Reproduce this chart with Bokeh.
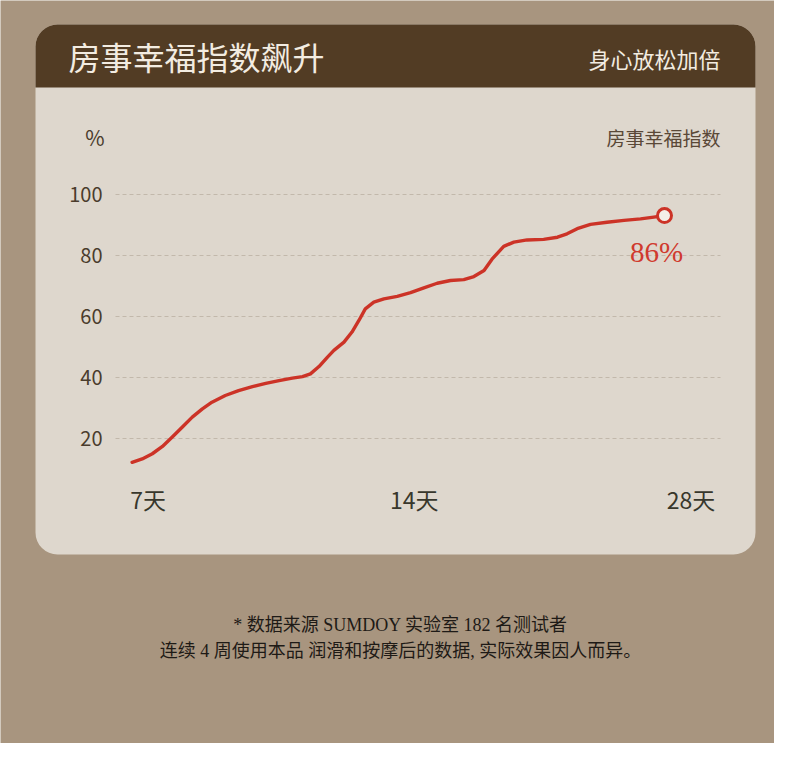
from bokeh.plotting import figure
from bokeh.models import Range1d, LinearAxis, FixedTicker, BoxAnnotation, Label, Grid
from bokeh.embed import file_html
from bokeh.resources import INLINE

# ---------------- data ----------------
progress = [0.0, 1.9, 3.8, 5.7, 7.5, 9.4, 11.3, 13.2, 15.0, 17.5,
            20.0, 22.6, 25.1, 27.6, 30.1, 32.0, 33.5, 35.1, 36.7, 37.9,
            39.8, 41.3, 42.6, 43.8, 45.4, 47.3, 49.8, 52.3, 54.8, 57.3,
            59.8, 62.3, 64.2, 66.1, 67.6, 69.8, 71.7, 74.2, 77.3, 79.9,
            81.7, 83.6, 86.1, 89.2, 92.4, 95.5, 98.0, 100.0]
index_pct = [12.2, 13.3, 15.0, 17.4, 20.4, 23.7, 27.0, 29.7, 31.9, 34.1,
             35.7, 37.0, 38.1, 39.0, 39.8, 40.3, 41.2, 43.6, 46.7, 48.9,
             51.6, 54.9, 58.7, 62.5, 64.7, 65.8, 66.6, 67.8, 69.4, 70.9,
             71.8, 72.1, 73.1, 75.1, 78.8, 83.0, 84.4, 85.1, 85.3, 86.0,
             87.1, 88.8, 90.2, 90.9, 91.5, 92.0, 92.6, 93.1]
y_ticks = [20, 40, 60, 80, 100]
x_tick_pos = [3, 53, 105]
x_tick_labels = ["7天", "14天", "28天"]
title = "房事幸福指数飙升"
subtitle = "身心放松加倍"
series_name = "房事幸福指数"
unit_label = "%"
callout = "86%"
note_1 = "* 数据来源 SUMDOY 实验室 182 名测试者"
note_2 = "连续 4 周使用本品 润滑和按摩后的数据, 实际效果因人而异。"

# ---------------- layout helpers (picture pixels -> data) ----------------
PX0, KX = 131.6, 5.324
PY0, KY = 499.0, 3.05
def X(px):
    return (px - PX0) / KX
def Y(py):
    return (PY0 - py) / KY

W, H = 774, 743
BG = "#a8957f"
CARD = "#ded7cd"
HEAD = "#523c24"
RED = "#cc3327"
CJK = "Noto Sans CJK SC"

p = figure(width=W, height=H,
           x_range=Range1d(X(0), X(W)), y_range=Range1d(Y(H), Y(0)),
           x_axis_location=None, y_axis_location=None,
           toolbar_location=None, output_backend="svg",
           min_border=0, background_fill_color=BG, border_fill_color=BG,
           outline_line_color=None)
# drop default grids
p.center = [r for r in p.center if not isinstance(r, Grid)]

# card and header
p.add_layout(BoxAnnotation(left=X(35), right=X(755), top=Y(24), bottom=Y(554),
                           fill_color=CARD, fill_alpha=1, line_color=None,
                           border_radius=22, level="image"))
p.add_layout(BoxAnnotation(left=X(35), right=X(755), top=Y(24), bottom=Y(87),
                           fill_color=HEAD, fill_alpha=1, line_color=None,
                           border_radius=(22, 22, 0, 0), level="image"))

# grid lines
p.segment(x0=[X(115)] * len(y_ticks), x1=[X(720)] * len(y_ticks),
          y0=y_ticks, y1=y_ticks, line_color="#c2b8ab", line_width=1,
          line_dash="4 3")

# axes
yax = LinearAxis(fixed_location=X(115), ticker=FixedTicker(ticks=y_ticks),
                 axis_line_color=None, major_tick_line_color=None,
                 minor_tick_line_color=None, major_label_standoff=7,
                 major_label_text_font=CJK, major_label_text_font_size="20px",
                 major_label_text_color="#4a3c2c")
p.add_layout(yax, "left")
xax = LinearAxis(fixed_location=Y(471), ticker=FixedTicker(ticks=x_tick_pos),
                 major_label_overrides=dict(zip(x_tick_pos, x_tick_labels)),
                 axis_line_color=None, major_tick_line_color=None,
                 minor_tick_line_color=None, major_label_standoff=4,
                 major_label_text_font=CJK, major_label_text_font_size="23px",
                 major_label_text_color="#38372c")
p.add_layout(xax, "below")

# curve and end marker
p.line(progress, index_pct, line_color=RED, line_width=3.4,
       line_join="round", line_cap="round")
p.scatter([progress[-1]], [index_pct[-1]], size=14, fill_color="#f4efe9",
          line_color=RED, line_width=3)

# texts
p.add_layout(Label(x=X(68), y=Y(55), text=title, text_font=CJK,
                   text_font_size="32px", text_color="#f3ece1",
                   text_baseline="middle", text_align="left"))
p.add_layout(Label(x=X(720), y=Y(57), text=subtitle, text_font=CJK,
                   text_font_size="22px", text_color="#f3ece1",
                   text_baseline="middle", text_align="right"))
p.add_layout(Label(x=X(104), y=Y(136), text=unit_label, text_font=CJK,
                   text_font_size="21px", text_color="#4a3c2c",
                   text_baseline="middle", text_align="right"))
p.add_layout(Label(x=X(720), y=Y(137), text=series_name, text_font=CJK,
                   text_font_size="19px", text_color="#5a4837",
                   text_baseline="middle", text_align="right"))
p.add_layout(Label(x=X(656), y=Y(251), text=callout,
                   text_font="Liberation Serif", text_font_size="29px",
                   text_color="#d03a2e", text_baseline="middle",
                   text_align="center"))
p.add_layout(Label(x=X(400), y=Y(624), text=note_1,
                   text_font="Liberation Serif, Noto Sans CJK SC",
                   text_font_size="18px", text_color="#1e1a16",
                   text_baseline="middle", text_align="center"))
p.add_layout(Label(x=X(400), y=Y(650), text=note_2,
                   text_font="Liberation Serif, Noto Sans CJK SC",
                   text_font_size="18px", text_color="#1e1a16",
                   text_baseline="middle", text_align="center"))

open("out.html", "w").write(file_html(p, INLINE))
